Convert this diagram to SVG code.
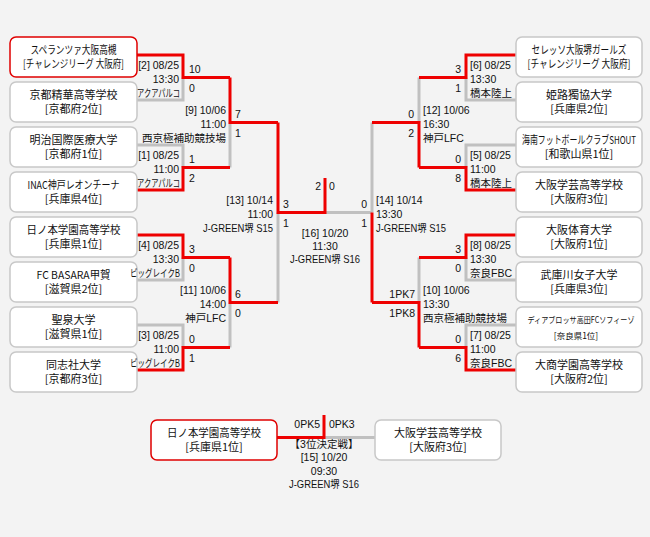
<svg xmlns="http://www.w3.org/2000/svg" width="650" height="537" viewBox="0 0 650 537">
<style>
.bg{fill:#f3f3f3}
.box{fill:#fff;stroke:#c8c8c8;stroke-width:1.5}
.win{fill:#fff;stroke:#e00000;stroke-width:1.5}
.nm{font-family:"Noto Sans CJK JP","Liberation Sans",sans-serif;font-size:11px;fill:#111;text-anchor:middle}
.sm{font-size:8.5px}
.lb{font-family:"Liberation Sans","Noto Sans CJK JP",sans-serif;font-size:10.5px;fill:#111}
.e{text-anchor:end}
.m{text-anchor:middle}
.r{fill:none;stroke:#ee0000;stroke-width:3}
.g{fill:none;stroke:#c0c0c0;stroke-width:3}
</style>
<rect class="bg" x="0" y="0" width="650" height="537"/>

<g id="connectors">
  <!-- left -->
  <path class="g" d="M137,100 H183 V77.5"/>
  <path class="g" d="M137,145 H183 V167.5"/>
  <path class="g" d="M230,167.5 V122.5"/>
  <path class="g" d="M137,280 H183 V257.5"/>
  <path class="g" d="M137,325 H183 V347.5"/>
  <path class="g" d="M230,347.5 V302.5"/>
  <path class="g" d="M278,302.5 V212.5"/>
  <path class="g" d="M325,212.5 H372"/>
  <path class="r" d="M137,55 H183 V77.5 H230"/>
  <path class="r" d="M137,190 H183 V167.5 H230"/>
  <path class="r" d="M230,77.5 V122.5 H278"/>
  <path class="r" d="M137,235 H183 V257.5 H230"/>
  <path class="r" d="M137,370 H183 V347.5 H230"/>
  <path class="r" d="M230,257.5 V302.5 H278"/>
  <path class="r" d="M278,122.5 V212.5 H325 V178"/>
  <!-- right -->
  <path class="g" d="M516,100 H466 V77.5"/>
  <path class="g" d="M516,145 H466 V167.5"/>
  <path class="g" d="M419,77.5 V122.5"/>
  <path class="g" d="M516,280 H466 V257.5"/>
  <path class="g" d="M516,325 H466 V347.5"/>
  <path class="g" d="M419,257.5 V302.5"/>
  <path class="g" d="M372,122.5 V212.5"/>
  <path class="r" d="M516,55 H466 V77.5 H419"/>
  <path class="r" d="M516,190 H466 V167.5 H419"/>
  <path class="r" d="M419,167.5 V122.5 H372"/>
  <path class="r" d="M516,235 H466 V257.5 H419"/>
  <path class="r" d="M516,370 H466 V347.5 H419"/>
  <path class="r" d="M419,347.5 V302.5 H372"/>
  <path class="r" d="M372,302.5 V212.5"/>
  <!-- third place -->
  <path class="g" d="M324,437.5 H375"/>
  <path class="r" d="M277,437.5 H324 V415"/>
</g>

<g id="L1"><rect class="win" x="10" y="37" width="127" height="40" rx="6"/><text class="nm" x="73.5" y="54" textLength="86" lengthAdjust="spacingAndGlyphs">スペランツァ大阪高槻</text><text class="nm" x="73.5" y="68" textLength="101" lengthAdjust="spacingAndGlyphs">[チャレンジリーグ 大阪府]</text></g>
<g id="L2"><rect class="box" x="10" y="82" width="127" height="40" rx="6"/><text class="nm" x="73.5" y="99">京都精華高等学校</text><text class="nm" x="73.5" y="113">[京都府2位]</text></g>
<g id="L3"><rect class="box" x="10" y="127" width="127" height="40" rx="6"/><text class="nm" x="73.5" y="144">明治国際医療大学</text><text class="nm" x="73.5" y="158">[京都府1位]</text></g>
<g id="L4"><rect class="box" x="10" y="172" width="127" height="40" rx="6"/><text class="nm" x="73.5" y="189" textLength="92" lengthAdjust="spacingAndGlyphs">INAC神戸レオンチーナ</text><text class="nm" x="73.5" y="203">[兵庫県4位]</text></g>
<g id="L5"><rect class="box" x="10" y="217" width="127" height="40" rx="6"/><text class="nm" x="73.5" y="234" textLength="94" lengthAdjust="spacingAndGlyphs">日ノ本学園高等学校</text><text class="nm" x="73.5" y="248">[兵庫県1位]</text></g>
<g id="L6"><rect class="box" x="10" y="262" width="127" height="40" rx="6"/><text class="nm" x="73.5" y="279" textLength="74" lengthAdjust="spacingAndGlyphs">FC BASARA甲賀</text><text class="nm" x="73.5" y="293">[滋賀県2位]</text></g>
<g id="L7"><rect class="box" x="10" y="307" width="127" height="40" rx="6"/><text class="nm" x="73.5" y="324">聖泉大学</text><text class="nm" x="73.5" y="338">[滋賀県1位]</text></g>
<g id="L8"><rect class="box" x="10" y="352" width="127" height="40" rx="6"/><text class="nm" x="73.5" y="369">同志社大学</text><text class="nm" x="73.5" y="383">[京都府3位]</text></g>

<g id="R1"><rect class="box" x="516" y="37" width="126" height="40" rx="6"/><text class="nm" x="579" y="54" textLength="95" lengthAdjust="spacingAndGlyphs">セレッソ大阪堺ガールズ</text><text class="nm" x="579" y="68" textLength="103" lengthAdjust="spacingAndGlyphs">[チャレンジリーグ 大阪府]</text></g>
<g id="R2"><rect class="box" x="516" y="82" width="126" height="40" rx="6"/><text class="nm" x="579" y="99">姫路獨協大学</text><text class="nm" x="579" y="113">[兵庫県2位]</text></g>
<g id="R3"><rect class="box" x="516" y="127" width="126" height="40" rx="6"/><text class="nm" x="579" y="144" textLength="114" lengthAdjust="spacingAndGlyphs">海南フットボールクラブSHOUT</text><text class="nm" x="579" y="158">[和歌山県1位]</text></g>
<g id="R4"><rect class="box" x="516" y="172" width="126" height="40" rx="6"/><text class="nm" x="579" y="189">大阪学芸高等学校</text><text class="nm" x="579" y="203">[大阪府3位]</text></g>
<g id="R5"><rect class="box" x="516" y="217" width="126" height="40" rx="6"/><text class="nm" x="579" y="234">大阪体育大学</text><text class="nm" x="579" y="248">[大阪府1位]</text></g>
<g id="R6"><rect class="box" x="516" y="262" width="126" height="40" rx="6"/><text class="nm" x="579" y="279">武庫川女子大学</text><text class="nm" x="579" y="293">[兵庫県3位]</text></g>
<g id="R7"><rect class="box" x="516" y="307" width="126" height="40" rx="6"/><text class="nm sm" x="581" y="323" textLength="107" lengthAdjust="spacingAndGlyphs">ディアブロッサ高田FCソフィーゾ</text><text class="nm sm" x="576" y="339">[奈良県1位]</text></g>
<g id="R8"><rect class="box" x="516" y="352" width="126" height="40" rx="6"/><text class="nm" x="579" y="369">大商学園高等学校</text><text class="nm" x="579" y="383">[大阪府2位]</text></g>

<g id="T1"><rect class="win" x="151" y="420" width="126" height="40" rx="6"/><text class="nm" x="214" y="437" textLength="94" lengthAdjust="spacingAndGlyphs">日ノ本学園高等学校</text><text class="nm" x="214" y="451">[兵庫県1位]</text></g>
<g id="T2"><rect class="box" x="375" y="420" width="126" height="40" rx="6"/><text class="nm" x="438" y="437">大阪学芸高等学校</text><text class="nm" x="438" y="451">[大阪府3位]</text></g>

<g id="labels" class="lb">
  <!-- left level 1 -->
  <text class="e" x="179" y="68.5">[2] 08/25</text><text class="e" x="179" y="82.5">13:30</text><text class="e" x="180" y="96.5" textLength="43" lengthAdjust="spacingAndGlyphs">アクアパルコ</text>
  <text x="189" y="72.5">10</text><text x="189" y="91.5">0</text>
  <text class="e" x="179" y="158.5">[1] 08/25</text><text class="e" x="179" y="172.5">11:00</text><text class="e" x="180" y="186.5" textLength="43" lengthAdjust="spacingAndGlyphs">アクアパルコ</text>
  <text x="189" y="162.5">1</text><text x="189" y="181.5">2</text>
  <text class="e" x="179" y="248.5">[4] 08/25</text><text class="e" x="179" y="262.5">13:30</text><text class="e" x="180" y="276.5" textLength="50" lengthAdjust="spacingAndGlyphs">ビッグレイクB</text>
  <text x="189" y="252.5">3</text><text x="189" y="271.5">0</text>
  <text class="e" x="179" y="338.5">[3] 08/25</text><text class="e" x="179" y="352.5">11:00</text><text class="e" x="180" y="366.5" textLength="50" lengthAdjust="spacingAndGlyphs">ビッグレイクB</text>
  <text x="189" y="342.5">0</text><text x="189" y="361.5">1</text>
  <!-- left level 2 -->
  <text class="e" x="226" y="113.5">[9] 10/06</text><text class="e" x="226" y="127.5">11:00</text><text class="e" x="226" y="141.5">西京極補助競技場</text>
  <text x="235" y="117.5">7</text><text x="235" y="136.5">1</text>
  <text class="e" x="226" y="293.5">[11] 10/06</text><text class="e" x="226" y="307.5">14:00</text><text class="e" x="226" y="321.5">神戸LFC</text>
  <text x="235" y="297.5">6</text><text x="235" y="316.5">0</text>
  <!-- left semi -->
  <text class="e" x="273" y="203.5">[13] 10/14</text><text class="e" x="273" y="217.5">11:00</text><text class="e" x="273" y="231.5" textLength="70" lengthAdjust="spacingAndGlyphs">J-GREEN堺 S15</text>
  <text x="283" y="207.5">3</text><text x="283" y="226.5">1</text>
  <!-- right level 1 -->
  <text x="470" y="68.5">[6] 08/25</text><text x="470" y="82.5">13:30</text><text x="470" y="96.5">橋本陸上</text>
  <text class="e" x="461" y="72.5">3</text><text class="e" x="461" y="91.5">1</text>
  <text x="470" y="158.5">[5] 08/25</text><text x="470" y="172.5">11:00</text><text x="470" y="186.5">橋本陸上</text>
  <text class="e" x="461" y="162.5">0</text><text class="e" x="461" y="181.5">8</text>
  <text x="470" y="248.5">[8] 08/25</text><text x="470" y="262.5">13:30</text><text x="470" y="276.5">奈良FBC</text>
  <text class="e" x="461" y="252.5">3</text><text class="e" x="461" y="271.5">0</text>
  <text x="470" y="338.5">[7] 08/25</text><text x="470" y="352.5">11:00</text><text x="470" y="366.5">奈良FBC</text>
  <text class="e" x="461" y="342.5">0</text><text class="e" x="461" y="361.5">6</text>
  <!-- right level 2 -->
  <text x="423" y="113.5">[12] 10/06</text><text x="423" y="127.5">16:30</text><text x="423" y="141.5">神戸LFC</text>
  <text class="e" x="414" y="117.5">0</text><text class="e" x="414" y="136.5">2</text>
  <text x="423" y="293.5">[10] 10/06</text><text x="423" y="307.5">13:30</text><text x="423" y="321.5">西京極補助競技場</text>
  <text class="e" x="415" y="297.5">1PK7</text><text class="e" x="415" y="316.5">1PK8</text>
  <!-- right semi -->
  <text x="376" y="203.5">[14] 10/14</text><text x="376" y="217.5">13:30</text><text x="376" y="231.5" textLength="70" lengthAdjust="spacingAndGlyphs">J-GREEN堺 S15</text>
  <text class="e" x="367" y="207.5">0</text><text class="e" x="367" y="226.5">1</text>
  <!-- final -->
  <text class="e" x="321" y="190">2</text><text x="329" y="190">0</text>
  <text class="m" x="325" y="237">[16] 10/20</text><text class="m" x="325" y="250">11:30</text><text class="m" x="325" y="263" textLength="70" lengthAdjust="spacingAndGlyphs">J-GREEN堺 S16</text>
  <!-- third place -->
  <text class="e" x="320" y="428">0PK5</text><text x="329" y="428">0PK3</text>
  <text class="m" x="324" y="448">【3位決定戦】</text>
  <text class="m" x="324" y="461">[15] 10/20</text>
  <text class="m" x="324" y="475">09:30</text>
  <text class="m" x="324" y="488" textLength="70" lengthAdjust="spacingAndGlyphs">J-GREEN堺 S16</text>
</g>
</svg>
